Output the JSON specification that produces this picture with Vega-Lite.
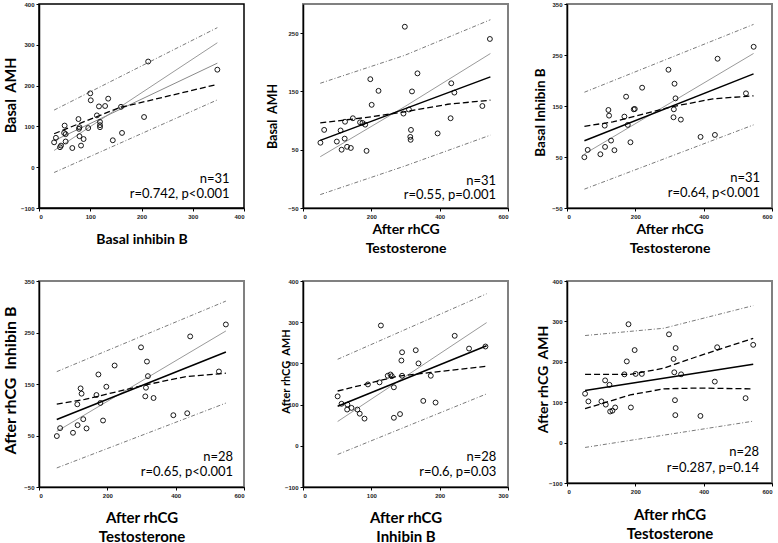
{
"$schema": "https://vega.github.io/schema/vega-lite/v6.json",
"padding": {"left": 1, "top": 0, "right": 0, "bottom": 0},
"background": "white",
"datasets": {
"pts1": [{"x":29.5,"y":61},{"x":33,"y":72},{"x":41,"y":49},{"x":43,"y":53},{"x":50,"y":102},{"x":49,"y":84},{"x":52,"y":81},{"x":52,"y":63},{"x":65,"y":47},{"x":77,"y":118},{"x":78,"y":94},{"x":79,"y":98},{"x":79,"y":76},{"x":82,"y":53},{"x":87,"y":69},{"x":96,"y":96},{"x":100,"y":181},{"x":101,"y":164},{"x":113,"y":127},{"x":117,"y":149},{"x":119,"y":111},{"x":119,"y":98},{"x":119,"y":103},{"x":129,"y":150},{"x":135,"y":168},{"x":144,"y":66},{"x":160,"y":148},{"x":162,"y":84},{"x":205,"y":123},{"x":213,"y":259},{"x":348,"y":239}],
"pts2": [{"x":51,"y":62},{"x":62,"y":84},{"x":99,"y":64},{"x":110,"y":83},{"x":113,"y":50},{"x":122,"y":69},{"x":123,"y":98},{"x":129,"y":55},{"x":140,"y":53},{"x":146,"y":104},{"x":167,"y":97},{"x":174,"y":96},{"x":182,"y":93},{"x":186,"y":48},{"x":197,"y":171},{"x":201,"y":127},{"x":221,"y":151},{"x":294,"y":112},{"x":310,"y":119},{"x":314,"y":72},{"x":315,"y":67},{"x":316,"y":84},{"x":319,"y":150},{"x":298,"y":261},{"x":335,"y":181},{"x":394,"y":78},{"x":432,"y":104},{"x":434,"y":164},{"x":443,"y":148},{"x":525,"y":125},{"x":547,"y":240}],
"pts3": [{"x":50.8,"y":49.6},{"x":60.6,"y":63.9},{"x":97.7,"y":55.4},{"x":110.4,"y":111.5},{"x":111.4,"y":69.8},{"x":121.2,"y":142.2},{"x":123.1,"y":131.1},{"x":129,"y":82.2},{"x":138.8,"y":63.3},{"x":168,"y":129.2},{"x":173,"y":168.3},{"x":177.9,"y":112.9},{"x":185.7,"y":78.9},{"x":195.4,"y":143.5},{"x":198.4,"y":144.2},{"x":219.9,"y":185.9},{"x":297,"y":221.1},{"x":311.7,"y":127.9},{"x":312.7,"y":143.5},{"x":314.7,"y":193.7},{"x":317.6,"y":165},{"x":333.2,"y":123.3},{"x":390.9,"y":89.4},{"x":432.9,"y":93.3},{"x":440.7,"y":242.7},{"x":523.8,"y":174.8},{"x":546.3,"y":266.1}],
"pts4": [{"x":52.2,"y":48.9},{"x":61.8,"y":64.3},{"x":99.5,"y":55.3},{"x":112.1,"y":110.6},{"x":113,"y":70.1},{"x":121.7,"y":141.5},{"x":124.6,"y":131.2},{"x":129.5,"y":81.7},{"x":139.1,"y":63.7},{"x":168.1,"y":128.6},{"x":173.9,"y":168.5},{"x":179.7,"y":113.2},{"x":187.4,"y":79.1},{"x":197.1,"y":144.7},{"x":221.3,"y":185.9},{"x":298.6,"y":221.2},{"x":311.1,"y":126},{"x":313,"y":142.8},{"x":315.9,"y":193.6},{"x":318.8,"y":165.3},{"x":335.3,"y":122.8},{"x":393.2,"y":89.4},{"x":433.8,"y":93.2},{"x":442.5,"y":242.4},{"x":526.6,"y":174.3},{"x":546.9,"y":265.6}],
"pts5": [{"x":50.7,"y":120},{"x":56.4,"y":102},{"x":65,"y":100},{"x":64.6,"y":88},{"x":71,"y":92},{"x":79.6,"y":88},{"x":83,"y":78},{"x":90,"y":66},{"x":95,"y":149},{"x":112,"y":154},{"x":114,"y":292},{"x":124,"y":170},{"x":128,"y":173},{"x":130,"y":169},{"x":133,"y":142},{"x":133,"y":68},{"x":142,"y":77},{"x":144,"y":207},{"x":145,"y":170},{"x":145,"y":227},{"x":165,"y":232},{"x":169,"y":200},{"x":176,"y":109},{"x":187,"y":170},{"x":194,"y":105},{"x":222,"y":267},{"x":243,"y":236},{"x":267,"y":241}],
"pts6": [{"x":52.9,"y":121},{"x":62.6,"y":102},{"x":100.8,"y":102},{"x":111.6,"y":154},{"x":113.5,"y":94},{"x":124.3,"y":143},{"x":126.3,"y":77},{"x":133,"y":79},{"x":141,"y":87},{"x":168,"y":169},{"x":175,"y":201},{"x":180,"y":293},{"x":187,"y":87},{"x":198,"y":229},{"x":201,"y":170},{"x":219,"y":170},{"x":298.5,"y":268},{"x":312,"y":207},{"x":314,"y":174},{"x":316,"y":105},{"x":317,"y":68},{"x":318,"y":234},{"x":334,"y":169},{"x":390.5,"y":66},{"x":432.6,"y":151},{"x":439.5,"y":236},{"x":522.7,"y":110},{"x":545,"y":242}],
"ln1": [{"s":"pu","x":29.5,"y":140},{"s":"pu","x":348,"y":342},{"s":"pl","x":29.5,"y":-13},{"s":"pl","x":348,"y":165},{"s":"ca","x":29.5,"y":41},{"s":"ca","x":348,"y":305},{"s":"rg","x":29.5,"y":65},{"s":"rg","x":348,"y":255},{"s":"cb","x":29.5,"y":82},{"s":"cb","x":78.7,"y":107},{"s":"cb","x":157,"y":146},{"s":"cb","x":348,"y":203}],
"ln2": [{"s":"pu","x":50.5,"y":164},{"s":"pu","x":298,"y":212},{"s":"pu","x":548.5,"y":273},{"s":"pl","x":50.5,"y":-27},{"s":"pl","x":298,"y":22},{"s":"pl","x":548.5,"y":75},{"s":"ca","x":50.5,"y":38},{"s":"ca","x":298,"y":124},{"s":"ca","x":548.5,"y":215},{"s":"rg","x":50.5,"y":66},{"s":"rg","x":548.5,"y":175},{"s":"cb","x":50.5,"y":96},{"s":"cb","x":181.5,"y":105},{"s":"cb","x":298,"y":115},{"s":"cb","x":424,"y":128},{"s":"cb","x":548.5,"y":135}],
"ln3": [{"s":"pu","x":51,"y":177},{"s":"pu","x":546,"y":310},{"s":"pl","x":51,"y":-13},{"s":"pl","x":546,"y":113},{"s":"ca","x":51,"y":56},{"s":"ca","x":546,"y":253},{"s":"rg","x":51,"y":82},{"s":"rg","x":546,"y":213},{"s":"cb","x":51,"y":110},{"s":"cb","x":134,"y":119},{"s":"cb","x":310,"y":149},{"s":"cb","x":427,"y":164},{"s":"cb","x":546,"y":170}],
"ln4": [{"s":"pu","x":52,"y":174},{"s":"pu","x":547,"y":311},{"s":"pl","x":52,"y":-13},{"s":"pl","x":547,"y":113},{"s":"ca","x":52,"y":58},{"s":"ca","x":547,"y":253},{"s":"rg","x":52,"y":81},{"s":"rg","x":547,"y":212},{"s":"cb","x":52,"y":111},{"s":"cb","x":134,"y":120},{"s":"cb","x":310,"y":148},{"s":"cb","x":427,"y":164},{"s":"cb","x":547,"y":171}],
"ln5": [{"s":"pu","x":50.7,"y":210},{"s":"pu","x":268.7,"y":369},{"s":"pl","x":50.7,"y":-21},{"s":"pl","x":268.7,"y":126},{"s":"ca","x":50.7,"y":59},{"s":"ca","x":268.7,"y":299},{"s":"rg","x":50.7,"y":96},{"s":"rg","x":268.7,"y":243},{"s":"cb","x":50.7,"y":133},{"s":"cb","x":95,"y":151},{"s":"cb","x":138.5,"y":169},{"s":"cb","x":187,"y":178},{"s":"cb","x":268.7,"y":193}],
"ln6": [{"s":"pu","x":52.9,"y":265},{"s":"pu","x":283,"y":283},{"s":"pu","x":545,"y":339},{"s":"pl","x":52.9,"y":-12},{"s":"pl","x":545,"y":53},{"s":"ca","x":52.9,"y":169},{"s":"ca","x":185,"y":169},{"s":"ca","x":283,"y":184},{"s":"ca","x":381,"y":213},{"s":"ca","x":545,"y":258},{"s":"rg","x":52.9,"y":129},{"s":"rg","x":545,"y":194},{"s":"cb","x":52.9,"y":84},{"s":"cb","x":185,"y":118},{"s":"cb","x":283,"y":133},{"s":"cb","x":381,"y":135},{"s":"cb","x":545,"y":133}]
},
"columns": 3,
"bounds": "flush",
"spacing": {"row": 73, "column": 59},
"concat": [
{
"width": 205, "height": 204,
"view": {"stroke": "black", "strokeWidth": 1.5},
"layer": [
{"data": {"name": "ln1"}, "transform": [{"filter": "datum.s=='pu'||datum.s=='pl'"}], "mark": {"type": "line", "stroke": "#7a7a7a", "strokeWidth": 1, "strokeDash": [4, 2, 1, 2]},
 "encoding": {"x": {"field": "x", "type": "quantitative", "scale": {"domain": [0, 400], "nice": false}, "axis": {"values": [0,50,100,150,200,250,300,350,400], "title": "Basal inhibin B", "titleY": 31}},
  "y": {"field": "y", "type": "quantitative", "scale": {"domain": [-100, 400], "nice": false}, "axis": {"values": [-100,0,100,200,300,400], "title": "Basal\u00a0 AMH", "titleX": -28, "titleY": 91, "titleFontSize": 14.5}}, "detail": {"field": "s"}}},
{"data": {"name": "ln1"}, "transform": [{"filter": "datum.s=='ca'"}], "mark": {"type": "line", "stroke": "#9a9a9a", "strokeWidth": 1}, "encoding": {"x": {"field": "x", "type": "quantitative"}, "y": {"field": "y", "type": "quantitative"}}},
{"data": {"name": "ln1"}, "transform": [{"filter": "datum.s=='rg'"}], "mark": {"type": "line", "stroke": "#8a8a8a", "strokeWidth": 1}, "encoding": {"x": {"field": "x", "type": "quantitative"}, "y": {"field": "y", "type": "quantitative"}}},
{"data": {"name": "ln1"}, "transform": [{"filter": "datum.s=='cb'"}], "mark": {"type": "line", "stroke": "black", "strokeWidth": 1.3, "strokeDash": [6, 3]}, "encoding": {"x": {"field": "x", "type": "quantitative"}, "y": {"field": "y", "type": "quantitative"}}},
{"data": {"name": "pts1"}, "mark": {"type": "point", "shape": "circle", "filled": false, "stroke": "black", "strokeWidth": 0.9, "size": 24, "opacity": 1}, "encoding": {"x": {"field": "x", "type": "quantitative"}, "y": {"field": "y", "type": "quantitative"}}},
{"data": {"values": [{}]}, "mark": {"type": "text", "align": "right", "baseline": "middle", "lineHeight": 15, "text": ["n=31", "r=0.742, p<0.001"]}, "encoding": {"x": {"datum": 372, "type": "quantitative"}, "y": {"datum": -29, "type": "quantitative"}}}
]
},
{
"width": 205, "height": 204,
"layer": [
{"data": {"name": "ln2"}, "transform": [{"filter": "datum.s=='pu'||datum.s=='pl'"}], "mark": {"type": "line", "stroke": "#7a7a7a", "strokeWidth": 1, "strokeDash": [4, 2, 1, 2]},
 "encoding": {"x": {"field": "x", "type": "quantitative", "scale": {"domain": [0, 600], "nice": false}, "axis": {"values": [0,100,200,300,400,500,600], "title": ["After rhCG", "Testosterone"], "titleY": 21}},
  "y": {"field": "y", "type": "quantitative", "scale": {"domain": [-50, 300], "nice": false}, "axis": {"values": [-50,0,50,100,150,200,250,300], "title": "Basal\u00a0 AMH", "titleX": -31, "titleY": 112, "titleFontSize": 12.5}}, "detail": {"field": "s"}}},
{"data": {"name": "ln2"}, "transform": [{"filter": "datum.s=='ca'"}], "mark": {"type": "line", "stroke": "#9a9a9a", "strokeWidth": 1}, "encoding": {"x": {"field": "x", "type": "quantitative"}, "y": {"field": "y", "type": "quantitative"}}},
{"data": {"name": "ln2"}, "transform": [{"filter": "datum.s=='rg'"}], "mark": {"type": "line", "stroke": "black", "strokeWidth": 1.5}, "encoding": {"x": {"field": "x", "type": "quantitative"}, "y": {"field": "y", "type": "quantitative"}}},
{"data": {"name": "ln2"}, "transform": [{"filter": "datum.s=='cb'"}], "mark": {"type": "line", "stroke": "black", "strokeWidth": 1.3, "strokeDash": [6, 3]}, "encoding": {"x": {"field": "x", "type": "quantitative"}, "y": {"field": "y", "type": "quantitative"}}},
{"data": {"name": "pts2"}, "mark": {"type": "point", "shape": "circle", "filled": false, "stroke": "black", "strokeWidth": 0.9, "size": 24, "opacity": 1}, "encoding": {"x": {"field": "x", "type": "quantitative"}, "y": {"field": "y", "type": "quantitative"}}},
{"data": {"values": [{}]}, "mark": {"type": "text", "align": "right", "baseline": "middle", "lineHeight": 14, "text": ["n=31", "r=0.55, p=0.001"]}, "encoding": {"x": {"datum": 565, "type": "quantitative"}, "y": {"datum": -4, "type": "quantitative"}}}
]
},
{
"width": 205, "height": 204,
"layer": [
{"data": {"name": "ln3"}, "transform": [{"filter": "datum.s=='pu'||datum.s=='pl'"}], "mark": {"type": "line", "stroke": "#7a7a7a", "strokeWidth": 1, "strokeDash": [4, 2, 1, 2]},
 "encoding": {"x": {"field": "x", "type": "quantitative", "scale": {"domain": [0, 600], "nice": false}, "axis": {"values": [0,100,200,300,400,500,600], "title": ["After rhCG", "Testosterone"], "titleY": 21}},
  "y": {"field": "y", "type": "quantitative", "scale": {"domain": [-50, 350], "nice": false}, "axis": {"values": [-50,0,50,100,150,200,250,300,350], "title": "Basal Inhibin B", "titleX": -27, "titleY": 108, "titleFontSize": 13.5}}, "detail": {"field": "s"}}},
{"data": {"name": "ln3"}, "transform": [{"filter": "datum.s=='ca'"}], "mark": {"type": "line", "stroke": "#9a9a9a", "strokeWidth": 1}, "encoding": {"x": {"field": "x", "type": "quantitative"}, "y": {"field": "y", "type": "quantitative"}}},
{"data": {"name": "ln3"}, "transform": [{"filter": "datum.s=='rg'"}], "mark": {"type": "line", "stroke": "black", "strokeWidth": 1.5}, "encoding": {"x": {"field": "x", "type": "quantitative"}, "y": {"field": "y", "type": "quantitative"}}},
{"data": {"name": "ln3"}, "transform": [{"filter": "datum.s=='cb'"}], "mark": {"type": "line", "stroke": "black", "strokeWidth": 1.3, "strokeDash": [6, 3]}, "encoding": {"x": {"field": "x", "type": "quantitative"}, "y": {"field": "y", "type": "quantitative"}}},
{"data": {"name": "pts3"}, "mark": {"type": "point", "shape": "circle", "filled": false, "stroke": "black", "strokeWidth": 0.9, "size": 24, "opacity": 1}, "encoding": {"x": {"field": "x", "type": "quantitative"}, "y": {"field": "y", "type": "quantitative"}}},
{"data": {"values": [{}]}, "mark": {"type": "text", "align": "right", "baseline": "middle", "lineHeight": 15, "text": ["n=31", "r=0.64, p<0.001"]}, "encoding": {"x": {"datum": 565, "type": "quantitative"}, "y": {"datum": 8.5, "type": "quantitative"}}}
]
},
{
"width": 205, "height": 206,
"layer": [
{"data": {"name": "ln4"}, "transform": [{"filter": "datum.s=='pu'||datum.s=='pl'"}], "mark": {"type": "line", "stroke": "#7a7a7a", "strokeWidth": 1, "strokeDash": [4, 2, 1, 2]},
 "encoding": {"x": {"field": "x", "type": "quantitative", "scale": {"domain": [0, 600], "nice": false}, "axis": {"values": [0,100,200,300,400,500,600], "title": ["After rhCG", "Testosterone"], "titleY": 30, "titleFontSize": 15}},
  "y": {"field": "y", "type": "quantitative", "scale": {"domain": [-50, 350], "nice": false}, "axis": {"values": [-50,0,50,100,150,200,250,300,350], "title": "After rhCG\u00a0 Inhibin B", "titleX": -29, "titleY": 99, "titleFontSize": 16}}, "detail": {"field": "s"}}},
{"data": {"name": "ln4"}, "transform": [{"filter": "datum.s=='ca'"}], "mark": {"type": "line", "stroke": "#9a9a9a", "strokeWidth": 1}, "encoding": {"x": {"field": "x", "type": "quantitative"}, "y": {"field": "y", "type": "quantitative"}}},
{"data": {"name": "ln4"}, "transform": [{"filter": "datum.s=='rg'"}], "mark": {"type": "line", "stroke": "black", "strokeWidth": 1.5}, "encoding": {"x": {"field": "x", "type": "quantitative"}, "y": {"field": "y", "type": "quantitative"}}},
{"data": {"name": "ln4"}, "transform": [{"filter": "datum.s=='cb'"}], "mark": {"type": "line", "stroke": "black", "strokeWidth": 1.3, "strokeDash": [6, 3]}, "encoding": {"x": {"field": "x", "type": "quantitative"}, "y": {"field": "y", "type": "quantitative"}}},
{"data": {"name": "pts4"}, "mark": {"type": "point", "shape": "circle", "filled": false, "stroke": "black", "strokeWidth": 0.9, "size": 24, "opacity": 1}, "encoding": {"x": {"field": "x", "type": "quantitative"}, "y": {"field": "y", "type": "quantitative"}}},
{"data": {"values": [{}]}, "mark": {"type": "text", "align": "right", "baseline": "middle", "lineHeight": 15, "text": ["n=28", "r=0.65, p<0.001"]}, "encoding": {"x": {"datum": 568, "type": "quantitative"}, "y": {"datum": 8.6, "type": "quantitative"}}}
]
},
{
"width": 205, "height": 206,
"layer": [
{"data": {"name": "ln5"}, "transform": [{"filter": "datum.s=='pu'||datum.s=='pl'"}], "mark": {"type": "line", "stroke": "#7a7a7a", "strokeWidth": 1, "strokeDash": [4, 2, 1, 2]},
 "encoding": {"x": {"field": "x", "type": "quantitative", "scale": {"domain": [0, 300], "nice": false}, "axis": {"values": [0,50,100,150,200,250,300], "title": ["After rhCG", "Inhibin B"], "titleY": 30, "titleFontSize": 15}},
  "y": {"field": "y", "type": "quantitative", "scale": {"domain": [-100, 400], "nice": false}, "axis": {"values": [-100,0,100,200,300,400], "title": "After rhCG\u00a0 AMH", "titleX": -17, "titleY": 90, "titleFontSize": 11}}, "detail": {"field": "s"}}},
{"data": {"name": "ln5"}, "transform": [{"filter": "datum.s=='ca'"}], "mark": {"type": "line", "stroke": "#9a9a9a", "strokeWidth": 1}, "encoding": {"x": {"field": "x", "type": "quantitative"}, "y": {"field": "y", "type": "quantitative"}}},
{"data": {"name": "ln5"}, "transform": [{"filter": "datum.s=='rg'"}], "mark": {"type": "line", "stroke": "black", "strokeWidth": 1.5}, "encoding": {"x": {"field": "x", "type": "quantitative"}, "y": {"field": "y", "type": "quantitative"}}},
{"data": {"name": "ln5"}, "transform": [{"filter": "datum.s=='cb'"}], "mark": {"type": "line", "stroke": "black", "strokeWidth": 1.3, "strokeDash": [6, 3]}, "encoding": {"x": {"field": "x", "type": "quantitative"}, "y": {"field": "y", "type": "quantitative"}}},
{"data": {"name": "pts5"}, "mark": {"type": "point", "shape": "circle", "filled": false, "stroke": "black", "strokeWidth": 0.9, "size": 24, "opacity": 1}, "encoding": {"x": {"field": "x", "type": "quantitative"}, "y": {"field": "y", "type": "quantitative"}}},
{"data": {"values": [{}]}, "mark": {"type": "text", "align": "right", "baseline": "middle", "lineHeight": 15, "text": ["n=28", "r=0.6, p=0.03"]}, "encoding": {"x": {"datum": 283, "type": "quantitative"}, "y": {"datum": -27.5, "type": "quantitative"}}}
]
},
{
"width": 205, "height": 202,
"layer": [
{"data": {"name": "ln6"}, "transform": [{"filter": "datum.s=='pu'||datum.s=='pl'"}], "mark": {"type": "line", "stroke": "#7a7a7a", "strokeWidth": 1, "strokeDash": [4, 2, 1, 2]},
 "encoding": {"x": {"field": "x", "type": "quantitative", "scale": {"domain": [0, 600], "nice": false}, "axis": {"values": [0,100,200,300,400,500,600], "title": ["After rhCG", "Testosterone"], "titleY": 31, "titleFontSize": 15}},
  "y": {"field": "y", "type": "quantitative", "scale": {"domain": [-100, 400], "nice": false}, "axis": {"values": [-100,0,100,200,300,400], "title": "After rhCG\u00a0 AMH", "titleX": -24, "titleY": 98, "titleFontSize": 14}}, "detail": {"field": "s"}}},
{"data": {"name": "ln6"}, "transform": [{"filter": "datum.s=='rg'"}], "mark": {"type": "line", "stroke": "black", "strokeWidth": 1.5}, "encoding": {"x": {"field": "x", "type": "quantitative"}, "y": {"field": "y", "type": "quantitative"}}},
{"data": {"name": "ln6"}, "transform": [{"filter": "datum.s=='ca'||datum.s=='cb'"}], "mark": {"type": "line", "stroke": "black", "strokeWidth": 1.3, "strokeDash": [6, 3]}, "encoding": {"x": {"field": "x", "type": "quantitative"}, "y": {"field": "y", "type": "quantitative"}, "detail": {"field": "s"}}},
{"data": {"name": "pts6"}, "mark": {"type": "point", "shape": "circle", "filled": false, "stroke": "black", "strokeWidth": 0.9, "size": 24, "opacity": 1}, "encoding": {"x": {"field": "x", "type": "quantitative"}, "y": {"field": "y", "type": "quantitative"}}},
{"data": {"values": [{}]}, "mark": {"type": "text", "align": "right", "baseline": "middle", "lineHeight": 16, "text": ["n=28", "r=0.287, p=0.14"]}, "encoding": {"x": {"datum": 562, "type": "quantitative"}, "y": {"datum": -22.5, "type": "quantitative"}}}
]
}
],
"config": {
"view": {"stroke": "#808080", "strokeWidth": 2},
"axis": {"grid": false, "domainColor": "black", "domainWidth": 1.5, "tickColor": "black", "tickSize": 3, "tickWidth": 1, "labelFont": "Liberation Sans", "labelFontSize": 6, "labelFontWeight": "bold", "labelColor": "#222", "labelPadding": 2, "titleFont": "Lato", "titleFontWeight": "bold", "titleFontSize": 14, "titleColor": "black", "titleBaseline": "middle", "titleLineHeight": 19},
"text": {"font": "Lato", "fontSize": 13, "color": "black"}
}
}
